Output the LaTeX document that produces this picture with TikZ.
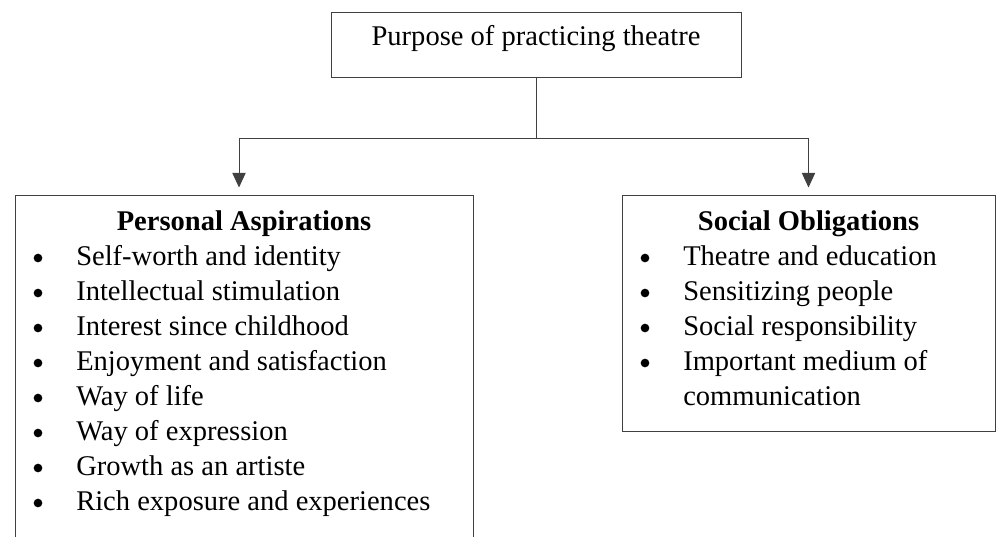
\documentclass[tikz,border=0pt]{standalone}
\usepackage{fontspec}
\setmainfont{Liberation Serif}
\usetikzlibrary{arrows.meta}

\tikzset{
  box/.style={draw=black!75, line width=0.75pt},
  link/.style={draw=black!75, line width=0.75pt},
  dot/.style={circle, fill=black, minimum size=6.5pt},
}

\begin{document}
\begin{tikzpicture}[x=0.75pt, y=-0.75pt, every node/.style={font=\fontsize{21.4}{26}\selectfont, inner sep=0pt}]
    \useasboundingbox (0,0) rectangle (1000,536);
    % boxes
    \node[box, minimum width=307.5pt, minimum height=48.75pt] (purpose) at (536,44.5) {};
    \node[box, minimum width=343.5pt, minimum height=262.5pt] (pabox) at (244,370) {};
    \node[box, minimum width=279.75pt, minimum height=177pt] (sobox) at (808.5,313) {};
    \node[anchor=base] (purposetxt) at (536,45) {Purpose of practicing theatre};
    % connectors
    \coordinate (split) at (536,138);
    \draw[link] (purpose) -- (split);
    \draw[link, -{Triangle[width=10pt,length=11pt]}, shorten >=5.25pt] (split) -| ([xshift=-3.75pt]pabox.north);
    \draw[link, -{Triangle[width=10pt,length=11pt]}, shorten >=5.25pt] (split) -| (sobox.north);
    % personal aspirations
    \node[anchor=base, font=\fontsize{21.4}{26}\selectfont\bfseries] (pahead) at (244,230) {Personal Aspirations};
    \foreach \txt [count=\i] in {Self-worth and identity, Intellectual stimulation, Interest since childhood,
        Enjoyment and satisfaction, Way of life, Way of expression, Growth as an artiste,
        Rich exposure and experiences} {
      \node[dot] (pabul\i) at (38,223+35*\i) {};
      \node[anchor=base west] (pa\i) at (76,230+35*\i) {\txt};
    }
    % social obligations
    \node[anchor=base, font=\fontsize{21.4}{26}\selectfont\bfseries] (sohead) at (808.5,230) {Social Obligations};
    \foreach \txt [count=\i] in {Theatre and education, Sensitizing people, Social responsibility,
        Important medium of} {
      \node[dot] (sobul\i) at (645,223+35*\i) {};
      \node[anchor=base west] (so\i) at (683,230+35*\i) {\txt};
    }
    \node[anchor=base west] (so5) at (683,405) {communication};
\end{tikzpicture}
\end{document}
